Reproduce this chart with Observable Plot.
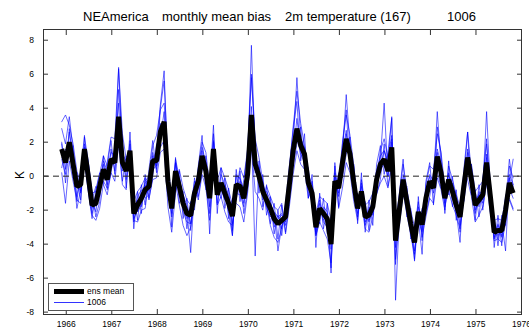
<!DOCTYPE html>
<html><head><meta charset="utf-8">
<script src="https://cdn.jsdelivr.net/npm/d3@7"></script>
<script src="https://cdn.jsdelivr.net/npm/@observablehq/plot@0.6"></script>
<style>
body{margin:0;background:#fff;}
#wrap{position:relative;width:529px;height:329px;font-family:"Liberation Sans",Arial,Helvetica,sans-serif;color:#000;}
.t{position:absolute;top:9.7px;font-size:13px;line-height:13px;white-space:pre;}
#ylab{position:absolute;left:20px;top:175px;font-size:12px;line-height:12px;transform:translate(-50%,-50%) rotate(-90deg);}
#legend{position:absolute;left:48px;top:283px;width:86px;height:28px;border:1px solid #555;background:#fff;box-sizing:border-box;font-size:8.5px;}
#legend .s{position:absolute;left:5px;width:30px;}
#legend .l{position:absolute;left:38px;line-height:9px;}
</style></head><body><div id="wrap"></div>
<script>
const titleParts = ["NEAmerica", "monthly mean bias", "2m temperature (167)", "1006"];
const yLabel = "K";
const legendLabels = ["ens mean", "1006"];
const yearTicks = [1966, 1967, 1968, 1969, 1970, 1971, 1972, 1973, 1974, 1975, 1976];
const valueTicks = [-8, -6, -4, -2, 0, 2, 4, 6, 8];
const firstMonth = 1965.9; // centre of first monthly mean (decimal year)

const ensMean = [1.6,0.8,2.0,0.7,-0.6,-0.5,1.6,0.0,-1.7,-1.6,
-0.6,0.4,-0.2,1.0,0.8,3.5,0.8,0.3,1.5,-2.2,
-1.7,-1.3,-0.8,-0.6,0.9,0.9,2.6,3.2,-0.3,-1.9,
0.3,-0.6,-1.6,-2.2,-2.3,-1.0,-0.3,1.2,0.3,-1.3,
1.6,-1.1,-0.4,-1.0,-1.6,-2.35,-0.5,-0.6,-1.3,0.1,
3.6,0.7,0.0,-0.9,-1.4,-1.9,-2.5,-2.8,-2.6,-2.4,
-0.5,1.5,2.8,1.8,1.3,-0.4,-1.0,-3.0,-1.9,-2.2,
-2.5,-4.0,-0.3,-0.7,0.8,2.2,1.3,-0.4,-1.9,-0.9,
-2.4,-2.3,-1.8,-0.2,0.7,1.0,0.3,1.7,-3.8,-2.0,
-0.2,-1.5,-2.8,-3.9,-2.1,-2.85,-1.3,-0.3,-0.7,1.15,
0.2,-1.3,-0.2,-0.9,-1.7,-2.4,-0.6,1.1,-0.2,-1.7,
-1.4,-1.1,0.8,-1.2,-3.3,-3.2,-3.2,-2.0,-0.4,-1.0];

const member1 = [2.8,1.9,3.5,1.5,-0.2,-1.4,2.3,0.9,-1.0,-2.4,
-1.5,1.2,0.6,2.1,0.1,5.1,2.0,-0.7,2.6,-1.1,
-2.6,-0.5,-1.7,0.4,2.1,0.2,4.0,5.6,0.8,-3.0,
1.1,-1.6,-0.9,-3.1,-1.5,-2.0,0.6,2.4,-0.8,-0.4,
3.0,-2.2,0.5,-1.9,-0.7,-3.2,0.4,-1.5,-0.2,1.3,
5.8,1.9,-1.0,0.1,-2.3,-1.2,-3.4,-2.0,-3.5,-1.6,
0.6,2.7,4.4,0.9,2.5,-1.3,0.1,-4.2,-1.0,-3.1,
-1.6,-5.7,0.8,-1.8,2.0,3.9,0.4,0.7,-2.8,0.2,
-3.3,-1.4,-2.9,0.7,1.8,0.1,1.4,3.4,-5.2,-1.0,
1.0,-2.4,-1.9,-5.0,-1.2,-3.8,-0.3,0.8,-1.7,2.9,
1.3,-2.2,0.9,-1.8,-0.8,-3.3,0.4,2.6,-1.1,-0.8,
-2.4,-0.2,2.2,-2.1,-2.4,-4.1,-2.3,-2.9,0.6,-0.1];

const member2 = [0.5,1.6,1.2,1.8,-1.5,0.3,0.8,-0.9,-2.5,-0.8,
0.2,-0.5,-1.1,0.2,1.7,2.4,-0.3,1.2,0.6,-3.1,
-0.9,-2.2,0.1,-1.4,0.0,1.9,1.7,2.1,-1.2,-1.0,
-0.6,0.3,-2.5,-1.3,-3.2,-0.1,-1.2,0.3,1.2,-2.2,
0.7,-0.2,-1.3,-0.1,-2.5,-1.4,-1.4,0.3,-2.2,-0.8,
2.5,-4.7,0.9,-1.8,-0.5,-2.8,-1.6,-3.7,-1.7,-3.3,
-1.4,0.6,1.9,2.9,0.4,0.5,-1.9,-2.1,-2.8,-1.3,
-3.4,-3.0,-1.2,0.2,-0.1,1.3,2.3,-1.3,-1.0,-1.8,
-1.5,-3.2,-0.9,-1.1,-0.2,1.9,-0.6,0.8,-2.8,-2.9,
-1.1,-0.6,-3.7,-2.9,-3.0,-1.9,-2.2,-1.2,0.2,0.3,
-0.7,-0.4,-1.1,0.0,-2.6,-1.5,-1.5,0.2,0.7,-2.6,
-0.5,-2.0,-0.1,-0.3,-4.2,-2.3,-4.1,-1.1,-1.3,-1.9];

const member3 = [3.2,3.6,3.0,1.9,0.3,-0.4,1.1,-0.8,-2.3,-2.6,
-1.9,-0.4,0.8,2.3,2.2,6.3,2.5,1.0,1.3,-2.6,
-2.7,-2.0,-1.9,-0.2,1.8,2.4,3.9,4.3,0.9,-1.5,
-0.4,-1.7,-2.9,-3.5,-3.0,-1.6,0.4,2.0,1.4,-0.6,
2.1,-1.7,-1.2,-2.1,-2.7,-2.9,-0.9,0.5,-0.1,1.6,
6.0,2.2,1.1,-0.3,-1.6,-2.9,-3.6,-3.9,-3.0,-2.2,
0.3,2.9,5.0,3.1,1.8,0.3,-1.6,-3.5,-2.7,-3.2,
-3.7,-5.1,-1.0,-0.2,1.9,3.6,2.4,0.6,-1.5,-1.6,
-3.1,-3.3,-2.4,-0.5,1.5,2.2,1.1,2.4,-4.9,-2.6,
-0.9,-2.3,-3.4,-4.6,-2.5,-4.6,-0.5,0.6,0.4,2.5,
1.4,-0.7,-0.9,-1.7,-2.3,-3.1,-1.4,0.9,0.7,-0.9,
-0.6,-0.3,1.9,-0.6,-3.8,-3.7,-3.9,-2.8,-0.3,1.0];

const member4 = [0.2,-1.6,0.9,-0.3,-1.4,-1.6,1.9,0.8,-1.0,-0.9,
0.1,1.2,-0.8,0.2,-0.3,1.9,-0.5,-0.8,1.9,-1.5,
-0.9,-0.6,-0.1,-1.3,-0.2,-0.1,1.4,1.6,-1.8,-3.3,
-1.0,0.4,-0.7,-1.4,-1.7,-0.3,-1.4,0.1,-0.7,-2.6,
0.2,-0.3,0.5,-0.1,-0.8,-1.7,-1.6,-1.8,-2.7,-1.0,
1.8,-0.9,-1.3,-2.0,-0.6,-1.2,-1.8,-2.0,-1.6,-3.4,
-1.8,0.1,1.5,0.7,0.4,-1.3,-0.3,-2.2,-1.2,-1.4,
-1.6,-2.6,0.6,-1.9,-0.7,0.8,0.2,-1.5,-2.6,-0.2,
-1.7,-1.5,-1.0,-1.0,-0.4,0.0,-0.7,0.6,-2.6,-1.1,
0.7,-0.8,-2.0,-3.0,-1.5,-3.6,-2.4,-1.3,-1.6,-0.1,
-0.8,-2.0,0.6,-0.2,-1.1,-1.8,0.2,-0.2,-1.2,-2.7,
-2.3,-1.8,-0.4,-2.2,-2.6,-2.5,-2.6,-1.3,-1.4,-2.0];

const member5 = [2.0,0.4,2.6,1.2,-0.2,-1.0,1.3,0.4,-1.3,-2.1,
-0.3,0.0,0.3,1.4,1.2,6.4,1.3,0.9,0.9,-1.8,
-2.1,-1.7,-0.4,-0.2,0.5,1.4,4.2,6.2,0.2,-2.4,
0.8,-0.2,-2.1,-2.7,-2.8,-0.6,0.1,1.7,0.8,-1.8,
2.5,-0.7,-0.9,-0.5,-2.2,-3.5,0.0,-0.1,-0.8,0.6,
7.7,1.2,0.5,-0.4,-1.9,-2.4,-2.1,-2.4,-2.2,-2.9,
0.1,1.9,5.8,2.2,1.7,0.1,-0.5,-3.5,-2.4,-1.8,
-2.1,-5.4,0.2,-1.2,1.3,4.8,1.8,0.1,-1.5,-1.4,
-2.0,-2.7,-1.4,0.3,1.2,1.5,0.8,3.5,-7.3,-2.4,
-0.6,-1.1,-3.3,-4.9,-2.5,-2.4,-0.9,0.1,-0.3,3.8,
0.6,-0.9,0.2,-1.3,-2.1,-3.9,-0.2,2.6,0.2,-1.3,
-1.8,-0.7,3.8,-0.8,-3.7,-2.8,-3.6,-1.6,1.0,-0.6];

const member6 = [1.1,1.3,1.5,0.2,-1.2,0.2,2.4,-0.5,-2.2,-1.1,
-1.1,0.9,0.3,0.5,1.3,4.3,0.3,0.8,1.0,-2.7,
-1.2,-0.8,-1.3,-1.1,1.4,0.4,3.1,2.7,0.2,-1.4,
0.8,-1.1,-1.1,-1.7,-2.8,-1.5,-0.8,0.7,0.8,-0.8,
1.1,-1.6,0.1,-0.5,-1.1,-2.8,-1.0,-1.1,-1.8,0.6,
4.1,0.2,0.5,-1.4,-0.9,-1.4,-3.0,-2.3,-3.1,-1.9,
-1.0,2.0,2.3,1.3,0.8,-0.9,-1.5,-2.5,-1.4,-2.7,
-3.0,-3.5,-0.8,-0.2,1.3,2.7,0.8,-0.9,-2.4,-0.4,
-2.9,-1.8,-2.3,0.3,0.2,1.5,0.8,2.2,-3.3,-1.5,
-0.7,-1.0,-2.3,-4.4,-2.6,-3.3,-0.8,-0.8,-0.2,1.6,
0.7,-1.8,-0.7,-0.4,-1.2,-2.9,-1.1,1.6,0.3,-2.2,
-0.9,-1.6,1.3,-1.7,-2.8,-3.7,-2.7,-4.4,0.1,-0.5];

const member7 = [1.0,0.1,2.8,-0.1,0.2,-0.9,0.9,0.6,-1.9,-1.2,
-0.2,-0.3,-0.7,1.6,0.3,3.0,1.5,-0.2,2.1,-2.0,
-1.4,-1.8,-0.3,0.0,0.4,0.6,2.2,3.8,-0.8,-1.6,
1.0,-0.1,-1.2,-2.0,-4.5,-0.7,0.2,1.5,-0.2,-1.0,
2.0,-0.8,-0.8,-1.4,-1.3,-3.5,0.1,-0.2,-1.0,0.5,
3.2,1.2,-0.4,-0.6,-1.8,-1.6,-2.2,-4.4,-2.9,-2.1,
0.0,1.2,3.4,1.5,1.0,-0.1,-1.3,-3.4,-1.6,-2.6,
-2.2,-4.3,-0.6,-0.4,0.5,1.8,1.6,-0.7,-2.2,-0.6,
-2.1,-2.6,-2.1,0.1,1.0,4.3,0.0,1.4,-4.2,-2.3,
0.1,-1.8,-2.5,-3.6,-1.8,-3.2,-1.0,0.0,-1.0,0.8,
0.5,-1.0,-0.5,-1.2,-1.4,-2.1,-0.9,1.4,-0.5,-1.4,
-1.1,-1.4,0.5,-0.9,-3.6,-2.9,-3.5,-2.3,-0.7,-1.3];

const member8 = [1.9,-0.4,1.7,0.4,-1.9,-0.8,1.7,-0.3,-1.4,-0.6,
-0.9,0.7,-0.5,0.7,1.1,2.7,0.5,0.6,1.2,-2.5,
-2.0,-1.0,-0.5,-0.9,1.2,0.6,2.3,2.9,-0.6,-2.2,
0.0,-0.3,-1.3,-2.5,-2.0,-1.3,0.0,0.9,0.6,-3.4,
1.3,-0.8,-0.7,-1.3,-1.3,-2.0,-0.8,-0.3,-1.6,-0.2,
3.3,1.0,0.3,-0.6,-1.1,-2.2,-2.8,-2.5,-2.3,-2.7,
-0.2,1.8,2.5,2.1,1.6,-0.7,-0.7,-3.3,-2.2,-1.9,
-2.8,-3.7,0.0,-1.0,0.5,2.5,1.0,-0.1,-1.6,-1.2,
-2.7,-2.0,-1.5,-0.5,0.4,0.7,0.0,2.0,-3.5,-1.7,
-0.5,-1.2,-3.1,-3.6,-2.4,-2.5,-1.6,-0.6,-0.4,1.4,
-0.1,-1.6,0.1,-0.6,-2.0,-2.1,-0.3,0.8,0.1,-2.0,
-1.1,-0.8,1.1,-1.5,-3.0,-3.5,-2.9,-1.7,-0.1,-0.7];

const members = [member1, member2, member3, member4, member5, member6, member7, member8];

const monthTime = ensMean.map((_, i) => firstMonth + i / 12);
const memberRows = members.flatMap((m, k) => m.map((v, i) => ({t: monthTime[i], v, member: k})));
const meanRows = ensMean.map((v, i) => ({t: monthTime[i], v}));

const axisColor = "#333";
const chart = Plot.plot({
  width: 529, height: 329,
  marginLeft: 43, marginRight: 8, marginTop: 29, marginBottom: 15,
  style: {fontFamily: '"Liberation Sans", Arial, Helvetica, sans-serif', fontSize: "8.5px", background: "transparent", color: "#000"},
  x: {domain: [1965.5, 1976]},
  y: {domain: [-8.14, 8.63]},
  marks: [
    Plot.line(memberRows, {x: "t", y: "v", z: "member", stroke: "#0000ff", strokeWidth: 0.6}),
    Plot.ruleY([0], {stroke: "#222", strokeWidth: 1, strokeDasharray: "6,4"}),
    Plot.line(meanRows, {x: "t", y: "v", stroke: "#000", strokeWidth: 5, strokeLinejoin: "miter", strokeLinecap: "butt"}),
    Plot.frame({stroke: axisColor}),
    Plot.axisX(yearTicks, {anchor: "bottom", tickSize: 5, dy: -5, fill: "none", stroke: axisColor, label: null}),
    Plot.axisX(yearTicks, {anchor: "top", tickSize: 5, dy: 5, fill: "none", stroke: axisColor, label: null}),
    Plot.axisX(yearTicks, {anchor: "bottom", tickSize: 0, tickPadding: 6, tickFormat: d => String(d), label: null}),
    Plot.axisY(valueTicks, {anchor: "left", tickSize: 5, dx: 5, fill: "none", stroke: axisColor, label: null}),
    Plot.axisY(valueTicks, {anchor: "right", tickSize: 5, dx: -5, fill: "none", stroke: axisColor, label: null}),
    Plot.axisY(valueTicks, {anchor: "left", tickSize: 0, tickPadding: 9.5, tickFormat: d => String(d), label: null})
  ]
});

const wrap = document.getElementById("wrap");
wrap.appendChild(chart);
chart.style.position = "absolute";
chart.style.left = "0px";
chart.style.top = "0px";

const titleX = [83, 162, 285, 447];
titleParts.forEach((s, i) => {
  const d = document.createElement("div");
  d.className = "t";
  d.style.left = titleX[i] + "px";
  d.textContent = s;
  wrap.appendChild(d);
});

const yl = document.createElement("div");
yl.id = "ylab";
yl.textContent = yLabel;
wrap.appendChild(yl);

const lg = document.createElement("div");
lg.id = "legend";
lg.innerHTML =
  `<div class="s" style="top:5px;height:5px;background:#000"></div>` +
  `<div class="l" style="top:3px">${legendLabels[0]}</div>` +
  `<div class="s" style="top:18px;height:0;border-top:0.7px solid #3333ff"></div>` +
  `<div class="l" style="top:14px">${legendLabels[1]}</div>`;
wrap.appendChild(lg);
</script>
</body></html>
